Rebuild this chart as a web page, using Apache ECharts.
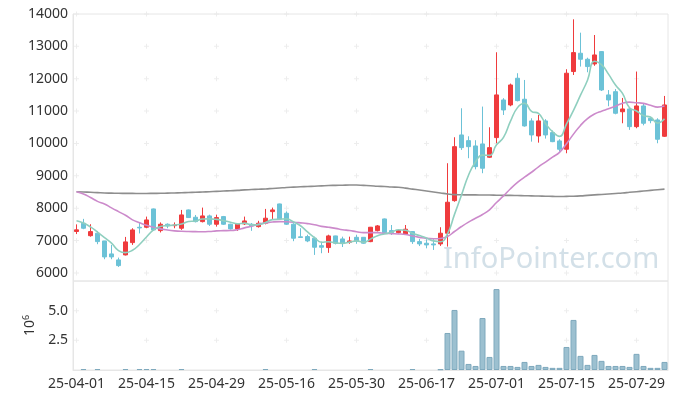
<!DOCTYPE html>
<html>
  <meta charset="UTF-8">
  <title>candle</title>
  <style type="text/css">
    html,body{margin:0px;height:100%;width:100%;background:#fff}
    .container{width:677px;height:399px}
  </style>
  <script type="text/javascript" src="https://cdn.jsdelivr.net/npm/echarts@6/dist/echarts.min.js"></script>
  <body>
    <div id="chart" class="container"></div>
    <script>
      // trading days, 25-04-01 .. 25-08-04
      var dates = [
        '25-04-01','25-04-02','25-04-03','25-04-04','25-04-07','25-04-08','25-04-09','25-04-10','25-04-11','25-04-14',
        '25-04-15','25-04-16','25-04-17','25-04-18','25-04-21','25-04-22','25-04-23','25-04-24','25-04-25','25-04-28',
        '25-04-29','25-04-30','25-05-02','25-05-07','25-05-08','25-05-09','25-05-12','25-05-13','25-05-14','25-05-15',
        '25-05-16','25-05-19','25-05-20','25-05-21','25-05-22','25-05-23','25-05-26','25-05-27','25-05-28','25-05-29',
        '25-05-30','25-06-02','25-06-04','25-06-05','25-06-09','25-06-10','25-06-11','25-06-12','25-06-13','25-06-16',
        '25-06-17','25-06-18','25-06-19','25-06-20','25-06-23','25-06-24','25-06-25','25-06-26','25-06-27','25-06-30',
        '25-07-01','25-07-02','25-07-03','25-07-04','25-07-07','25-07-08','25-07-09','25-07-10','25-07-11','25-07-14',
        '25-07-15','25-07-16','25-07-17','25-07-18','25-07-21','25-07-22','25-07-23','25-07-24','25-07-25','25-07-28',
        '25-07-29','25-07-30','25-07-31','25-08-01','25-08-04'
      ];
      var opens = [
        7280,7535,7150,7226,6988,6587,6402,6556,6936,7410, 7411,7977,7307,7504,7460,7380,7946,7720,7585,7761,
        7504,7740,7504,7360,7514,7504,7430,7535,7894,8131, 7844,7504,7115,7122,7072,6843,6783,7143,7050,6947,
        7100,7100,6967,7307,7668,7307,7245,7205,7276,6967, 6917,6896,6896,7226,8233,10263,10087,9923,9985,9574,
        10181,11344,11190,12015,11366,10696,10232,10696,10335,10078, 9821,12222,12787,12602,12457,12838,11500,11600,10980,11066,
        10520,11159,10778,10727,10222
      ];
      var closes = [
        7330,7380,7276,6967,6494,6494,6226,6958,7328,7390, 7637,7328,7504,7452,7480,7792,7710,7585,7761,7504,
        7710,7504,7360,7504,7606,7452,7535,7690,7946,7668, 7504,7072,7095,6988,6793,6793,7143,6917,6917,6988,
        6988,6917,7411,7452,7245,7245,7307,7350,6967,6896, 6865,6865,7226,8184,9901,9871,9901,9284,9234,9871,
        11500,11035,11807,11323,10541,10263,10696,10263,10056,9821, 12170,12807,12602,12375,12735,11653,11344,10933,11066,10520,
        11159,10624,10705,10130,11190
      ];
      var lows = [
        7200,7350,7120,6887,6423,6423,6185,6540,6865,7220, 7380,7300,7250,7380,7380,7328,7700,7560,7560,7450,
        7430,7480,7340,7297,7483,7300,7400,7500,7637,7640, 7480,6980,7080,6950,6556,6608,6620,6880,6800,6900,
        6900,6900,6950,7280,7230,7174,7220,7174,6896,6830, 6760,6710,6834,6813,8200,9800,9544,9200,9080,9550,
        10006,10880,11150,11300,10520,10056,10025,10150,10040,9747, 9697,12116,12375,12200,12400,11620,11150,10900,10624,10420,
        10470,10560,10624,10006,10200
      ];
      var highs = [
        7500,7670,7504,7297,6990,6865,6473,7112,7380,7560, 7740,7990,7560,7530,7560,7946,7960,7790,8018,7800,
        7800,7760,7520,7535,7740,7540,7610,7977,8018,8140, 7900,7535,7380,7180,7120,6967,7180,7150,7120,7120,
        7180,7110,7420,7480,7680,7480,7340,7480,7290,7050, 7040,7040,7411,9389,10192,11087,10222,10100,11139,10500,
        12818,11400,11850,12170,11962,10778,10881,10750,10400,10130, 12293,13836,13423,12650,13351,12850,11650,11680,11406,11100,
        12222,11230,10800,10778,11468
      ];
      // volume, millions of shares (0 = too small to see)
      var volumes = [
        0,0.08,0,0.08,0,0,0,0.08,0,0.08, 0.08,0.08,0,0,0,0.08,0,0,0,0,
        0,0,0,0,0,0,0,0.08,0,0, 0,0,0,0,0.08,0,0,0,0,0,
        0,0,0.08,0,0,0,0,0,0.08,0, 0,0,0.06,3.12,5.06,1.63,0.51,0.34,4.38,1.10,
        6.82,0.34,0.34,0.26,0.68,0.34,0.43,0.26,0.18,0.18, 1.94,4.22,1.19,0.43,1.27,0.77,0.34,0.34,0.34,0.26,
        1.36,0.34,0.18,0.18,0.68
      ];
      // moving average values before enough history is in view
      var ma5Head = [7610, 7540, 7420, 7260];
      var ma20Head = [8510, 8440, 8330, 8210, 8130, 8010, 7894, 7780, 7640, 7550,
                      7470, 7410, 7360, 7325, 7300, 7285, 7278, 7275, 7272];
      var ma120 = [
        8510,8500,8490,8480,8470,8465,8460,8458,8456,8455, 8455,8458,8460,8465,8470,8475,8485,8490,8500,8510,
        8520,8530,8540,8550,8565,8575,8585,8595,8610,8625, 8640,8650,8660,8670,8680,8690,8700,8705,8710,8715,
        8715,8705,8695,8680,8670,8655,8645,8620,8590,8560, 8530,8500,8470,8440,8420,8415,8410,8410,8405,8405,
        8400,8395,8395,8390,8385,8380,8375,8370,8365,8360, 8365,8370,8380,8395,8410,8425,8440,8455,8470,8490,
        8510,8530,8550,8570,8590
      ];
      var priceTicks = [6000, 7000, 8000, 9000, 10000, 11000, 12000, 13000, 14000];
      var volTicks = [2.5, 5.0];
      var labelStep = 10;

      function movingAvg(period, head) {
        var out = [];
        for (var i = 0; i < closes.length; i++) {
          if (i < period - 1) { out.push(head[i]); continue; }
          var s = 0;
          for (var j = i - period + 1; j <= i; j++) s += closes[j];
          out.push(Math.round(s / period));
        }
        return out;
      }

      var candles = dates.map(function (d, i) {
        return [opens[i], closes[i], lows[i], highs[i]];
      });
      var volBars = volumes.map(function (v) { return v > 0 ? v : '-'; });

      // faint "+" marks at the grid crossings
      var crossPrice = [], crossVol = [];
      for (var k = 0; k < dates.length; k += labelStep) {
        priceTicks.forEach(function (v) { crossPrice.push([k, v]); });
        volTicks.forEach(function (v) { crossVol.push([k, v]); });
      }
      var plus = 'path://M2,0H3V5H2Z M0,2H5V3H0Z';

      var font = '"Noto Sans", sans-serif';
      var myChart = echarts.init(document.getElementById('chart'));
      var option = {
        animation: false,
        textStyle: { fontFamily: font },
        grid: [
          { left: 73, right: 9, top: 14, height: 267, show: true, borderColor: '#e6e6e6', borderWidth: 1 },
          { left: 73, right: 9, top: 281, height: 89, show: true, borderColor: '#e6e6e6', borderWidth: 1 }
        ],
        graphic: [{
          type: 'text', x: 443, y: 260, z: 0, silent: true,
          style: { text: 'InfoPointer.com', font: '29px "Noto Sans"', fill: '#d3e0e8', textVerticalAlign: 'middle' }
        }],
        xAxis: [
          { type: 'category', gridIndex: 0, data: dates, boundaryGap: true,
            axisLine: { show: false }, axisTick: { show: false }, axisLabel: { show: false }, splitLine: { show: false } },
          { type: 'category', gridIndex: 1, data: dates, boundaryGap: true,
            axisLine: { lineStyle: { color: '#e6e6e6' } }, axisTick: { show: false },
            axisLabel: { interval: labelStep - 1, color: '#333', fontSize: 14, margin: 7, fontFamily: font },
            splitLine: { show: false } }
        ],
        yAxis: [
          { type: 'value', gridIndex: 0, min: 5750, max: 14000, interval: 250,
            axisLine: { show: true, lineStyle: { color: '#e6e6e6' } }, axisTick: { show: false },
            splitLine: { show: false },
            axisLabel: { color: '#333', fontSize: 14, margin: 5, fontFamily: font,
              formatter: function (v) { return priceTicks.indexOf(v) >= 0 ? String(v) : ''; } } },
          { type: 'value', gridIndex: 1, min: 0, max: 7.5, interval: 2.5,
            axisLine: { show: true, lineStyle: { color: '#e6e6e6' } }, axisTick: { show: false },
            splitLine: { show: false },
            name: '{a|10}{b|6}', nameLocation: 'middle', nameRotate: 90, nameGap: 29,
            nameTextStyle: { rich: {
              a: { fontSize: 14, color: '#333', fontFamily: font },
              b: { fontSize: 9, color: '#333', fontFamily: font, padding: [0, 0, 8, 0] }
            } },
            axisLabel: { color: '#333', fontSize: 14, margin: 5, fontFamily: font,
              formatter: function (v) { return volTicks.indexOf(v) >= 0 ? v.toFixed(1) : ''; } } }
        ],
        series: [
          { type: 'scatter', xAxisIndex: 0, yAxisIndex: 0, data: crossPrice, symbol: plus, symbolSize: 5,
            itemStyle: { color: '#e8e8e8' }, silent: true, z: 1 },
          { type: 'scatter', xAxisIndex: 1, yAxisIndex: 1, data: crossVol, symbol: plus, symbolSize: 5,
            itemStyle: { color: '#e8e8e8' }, silent: true, z: 1 },
          { type: 'candlestick', name: 'price', xAxisIndex: 0, yAxisIndex: 0, data: candles, barWidth: 5,
            itemStyle: { color: '#ef3b3d', color0: '#6cc2d7', borderColor: '#ef3b3d', borderColor0: '#6cc2d7', borderWidth: 1 } },
          { type: 'line', name: 'MA120', xAxisIndex: 0, yAxisIndex: 0, data: ma120, symbol: 'none', smooth: true,
            lineStyle: { color: '#8e8e8e', width: 1.6 } },
          { type: 'line', name: 'MA20', xAxisIndex: 0, yAxisIndex: 0, data: movingAvg(20, ma20Head), symbol: 'none', smooth: true,
            lineStyle: { color: '#cc8acb', width: 1.6 } },
          { type: 'line', name: 'MA5', xAxisIndex: 0, yAxisIndex: 0, data: movingAvg(5, ma5Head), symbol: 'none', smooth: true,
            lineStyle: { color: '#8fcfbf', width: 1.6 } },
          { type: 'bar', name: 'volume', xAxisIndex: 1, yAxisIndex: 1, data: volBars, barWidth: 6,
            itemStyle: { color: '#9cc0d0', borderColor: '#7fa9bd', borderWidth: 1 } }
        ]
      };
      myChart.setOption(option);
    </script>
  </body>
</html>
